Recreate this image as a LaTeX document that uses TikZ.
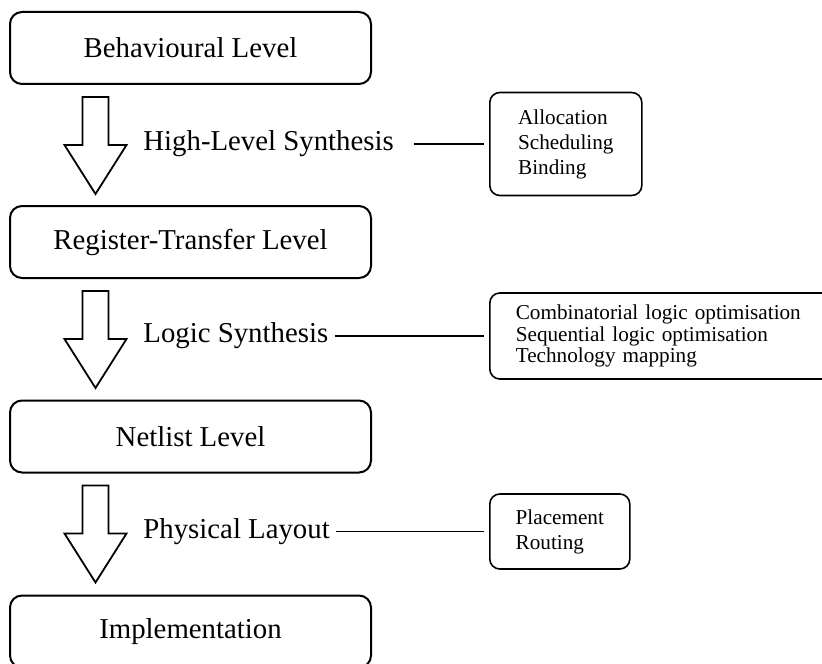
\documentclass[tikz,border=0pt]{standalone}
\usepackage{fontspec}
\setmainfont{Liberation Serif}
\usetikzlibrary{calc}

\tikzset{
    level/.style={draw, line width=1pt, rounded corners=6pt,
        minimum width=180.5pt, minimum height=36pt,
        font=\fontsize{14.4}{17}\selectfont},
    synth/.style={inner sep=3pt, anchor=west,
        font=\fontsize{14.4}{17}\selectfont},
    task/.style={draw, line width=0.8pt, rounded corners=5pt, anchor=west,
        align=left, font=\fontsize{10.6}{12.5}\selectfont},
    hollow/.style={draw, line width=0.9pt, line join=miter, fill=white},
    link/.style={line width=0.6pt, shorten >=2.5pt}
}

\begin{document}
\begin{tikzpicture}[x=0.5pt, y=-0.5pt]
            \clip (0,0) rectangle (822,663);

            \node (B) at (190.5,48) [level] {Behavioural Level};
            \node (R) at ($(B) + (0,194)$) [level] {Register-Transfer Level};
            \node (N) at ($(R) + (0,194.5)$) [level] {Netlist Level};
            \node (I) at ($(N) + (0,195)$) [level] {Implementation};

            % big hollow arrows between the levels
            \foreach \a/\n in {B/1, R/2, N/3}
                {
                    \coordinate (top\n) at ($(\a.south) + (-95,12)$);
                    \draw [hollow] ($(top\n) + (-13,0)$) -- ++(26,0) -- ++(0,48)
                        -- ++(18,0) -- ++(-31,49) -- ++(-31,-49) -- ++(18,0) -- cycle;
                }

                \node (hls) at ($(top1) + (41.5,47)$) [synth] {High-Level Synthesis};
                \node (ls) at ($(top2) + (41.5,45)$) [synth] {Logic Synthesis};
                \node (pl) at ($(top3) + (41.5,46)$) [synth] {Physical Layout};

                \coordinate (side) at (489,0);

                \node (alloc) at (hls -| side) [task, minimum width=76pt, minimum height=51.5pt]
                    {Allocation\\Scheduling\\Binding};
                \node (opt) at (ls -| side) [task, text width=159pt, inner xsep=13pt,
                    minimum height=43pt, font=\fontsize{10.6}{10.75}\selectfont]
                    {Combinatorial logic optimisation\\Sequential logic optimisation\\Technology mapping};
                \node (route) at (pl -| side) [task, minimum width=70pt, minimum height=37.5pt]
                    {Placement\\Routing};

                \draw [link, shorten <=7pt] (hls) -- (alloc);
                \draw [link] (ls) -- (opt);
                \draw [link] (pl) -- (route);

        \end{tikzpicture}
\end{document}
